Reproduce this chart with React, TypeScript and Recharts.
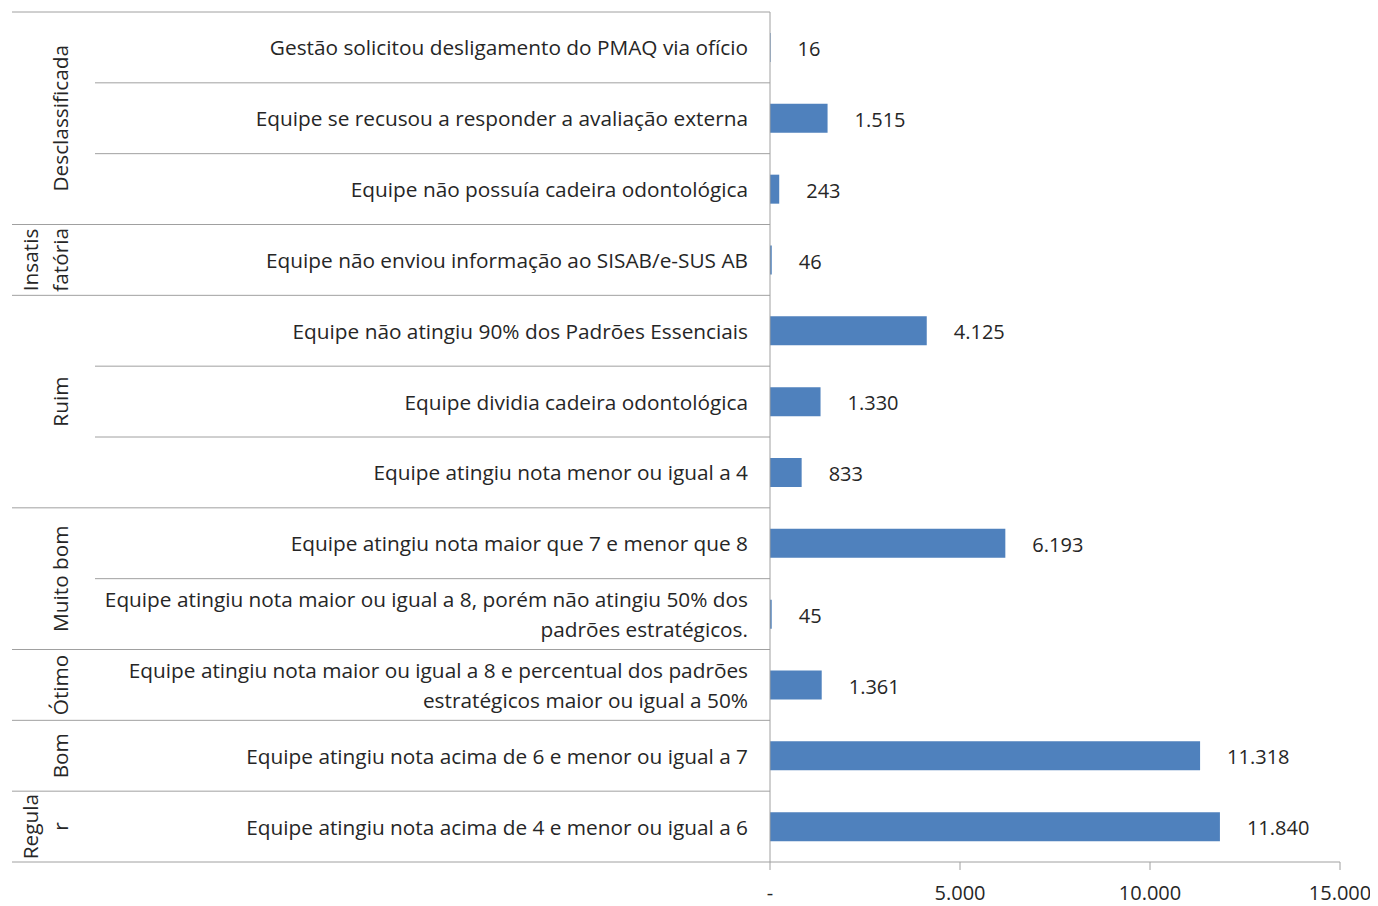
import { Bar, BarChart, LabelList, XAxis, YAxis } from "recharts";

// grupos (rótulo rotacionado, quebrado em linhas) e quantas linhas cada um cobre
const groupLabels = [
	["Desclassificada"],
	["Insatis", "fatória"],
	["Ruim"],
	["Muito bom"],
	["Ótimo"],
	["Bom"],
	["Regula", "r"],
];
const groupSizes = [3, 1, 3, 2, 1, 1, 1];

const categories = [
	["Gestão solicitou desligamento do PMAQ via ofício"],
	["Equipe se recusou a responder a avaliação externa"],
	["Equipe não possuía cadeira odontológica"],
	["Equipe não enviou informação ao SISAB/e-SUS AB"],
	["Equipe não atingiu 90% dos Padrões Essenciais"],
	["Equipe dividia cadeira odontológica"],
	["Equipe atingiu nota menor ou igual a 4"],
	["Equipe atingiu nota maior que 7 e menor que 8"],
	["Equipe atingiu nota maior ou igual a 8, porém não atingiu 50% dos", "padrões estratégicos."],
	["Equipe atingiu nota maior ou igual a 8 e percentual dos padrões", "estratégicos maior ou igual a 50%"],
	["Equipe atingiu nota acima de 6 e menor ou igual a 7"],
	["Equipe atingiu nota acima de 4 e menor ou igual a 6"],
];

const values = [16, 1515, 243, 46, 4125, 1330, 833, 6193, 45, 1361, 11318, 11840];

const xTicks = [0, 5000, 10000, 15000];

const data = categories.map((lines, i) => ({
	name: lines.join(" "),
	value: values[i],
}));

// índice do grupo de cada linha
const groupStart: number[] = [];
const rowGroup: number[] = [];
groupSizes.forEach((n, g) => {
	groupStart.push(rowGroup.length);
	for (let k = 0; k < n; k++) rowGroup.push(g);
});

const W = 1370;
const H = 898;
const TOP = 4;
const PLOT_LEFT = 762;
const PLOT_BOTTOM = 854;
const X_AXIS_H = 44;
const BAND = (PLOT_BOTTOM - TOP) / data.length;

const FONT = "'Open Sans', sans-serif";
const FS = 20.8;
const FS_NUM = 20;
const TEXT = "#262626";
const GRID = "#a0a0a0";

const fmt = (v: number) =>
	v === 0 ? "-" : String(v).replace(/\B(?=(\d{3})+(?!\d))/g, ".");

const CategoryTick = (props: any) => {
	const { y, payload } = props;
	const i: number = props.index ?? payload.index;
	const lines = categories[i];
	const g = rowGroup[i];
	const isLastInGroup = groupStart[g] + groupSizes[g] - 1 === i;
	const top = y - BAND / 2;
	const bottom = y + BAND / 2;
	const isFirstInGroup = groupStart[g] === i;
	const glines = groupLabels[g];
	const gcy = top + (groupSizes[g] * BAND) / 2;

	return (
		<g>
			{i === 0 && <line x1={4} x2={PLOT_LEFT} y1={top} y2={top} stroke={GRID} />}
			<line
				x1={isLastInGroup ? 4 : 87}
				x2={PLOT_LEFT}
				y1={bottom}
				y2={bottom}
				stroke={GRID}
			/>
			{lines.map((t, k) => (
				<text
					key={k}
					x={740}
					y={y + (k - (lines.length - 1) / 2) * 30}
					textAnchor="end"
					dominantBaseline="central"
					fontSize={FS}
					fontFamily={FONT}
					fill={TEXT}
				>
					{t}
				</text>
			))}
			{isFirstInGroup &&
				glines.map((t, k) => {
					const cx = 52 - (glines.length - 1 - k) * 30;
					return (
						<text
							key={"g" + k}
							x={cx}
							y={gcy}
							transform={`rotate(-90, ${cx}, ${gcy})`}
							textAnchor="middle"
							dominantBaseline="central"
							fontSize={FS}
							fontFamily={FONT}
							fill={TEXT}
						>
							{t}
						</text>
					);
				})}
		</g>
	);
};

const ValueLabel = (props: any) => {
	const { x, y, width, height, value } = props;
	return (
		<text
			x={x + width + 27}
			y={y + height / 2 + 1}
			dominantBaseline="central"
			fontSize={FS_NUM}
			fontFamily={FONT}
			fill={TEXT}
		>
			{fmt(value)}
		</text>
	);
};

export default function App() {
	return (
		<div style={{ width: W, height: H, background: "#fff" }}>
			<BarChart
				width={W}
				height={H}
				data={data}
				layout="vertical"
				margin={{ top: TOP, right: W - 1332, bottom: H - PLOT_BOTTOM - X_AXIS_H, left: 0 }}
			>
				<XAxis
					type="number"
					domain={[0, 15000]}
					ticks={xTicks}
					tickFormatter={fmt}
					height={X_AXIS_H}
					axisLine={{ stroke: GRID }}
					tickLine={{ stroke: GRID }}
					tickSize={8}
					tickMargin={16}
					tick={{ fontSize: FS_NUM, fontFamily: FONT, fill: TEXT }}
					interval={0}
				/>
				<YAxis
					type="category"
					dataKey="name"
					width={PLOT_LEFT}
					axisLine={{ stroke: GRID }}
					tickLine={false}
					tick={<CategoryTick />}
					interval={0}
				/>
				<Bar dataKey="value" fill="#4F81BD" barSize={29} isAnimationActive={false}>
					<LabelList dataKey="value" content={<ValueLabel />} />
				</Bar>
			</BarChart>
		</div>
	);
}
